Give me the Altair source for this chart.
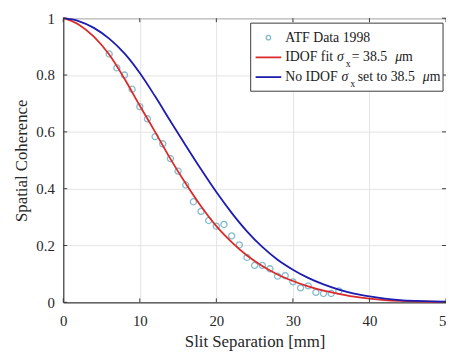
import altair as alt
import pandas as pd

# ---- data ----
data_x = [6, 7, 8, 9, 10, 11, 12, 13, 14, 15, 16, 17, 18, 19, 20, 21, 22, 23, 24, 25,
          26, 27, 28, 29, 30, 31, 32, 33, 34, 35, 36]
data_y = [0.874, 0.825, 0.800, 0.750, 0.689, 0.646, 0.583, 0.558, 0.506, 0.462, 0.413,
          0.354, 0.320, 0.288, 0.268, 0.274, 0.234, 0.202, 0.158, 0.130, 0.130, 0.118,
          0.092, 0.094, 0.072, 0.051, 0.058, 0.035, 0.031, 0.031, 0.040]

curve_x = [0, 2, 4, 6, 8, 10, 12, 14, 16, 18, 20, 22, 24, 26, 28, 30, 32, 34, 36, 38,
           40, 42, 44, 46, 48, 50]
idof_y = [1.0, 0.978, 0.935, 0.872, 0.787, 0.692, 0.600, 0.505, 0.418, 0.338, 0.268,
          0.212, 0.165, 0.128, 0.098, 0.075, 0.056, 0.041, 0.030, 0.020, 0.013, 0.008,
          0.005, 0.003, 0.002, 0.001]
noidof_y = [1.0, 0.990, 0.966, 0.928, 0.876, 0.807, 0.725, 0.638, 0.552, 0.468, 0.388,
            0.315, 0.250, 0.195, 0.150, 0.115, 0.086, 0.063, 0.045, 0.031, 0.021, 0.013,
            0.008, 0.005, 0.003, 0.002]

x_ticks = [0, 10, 20, 30, 40, 50]
y_ticks = [0, 0.2, 0.4, 0.6, 0.8, 1]

series_names = ["ATF Data 1998", "IDOF fit", "No IDOF"]

# ---- styling ----
FONT = "Liberation Serif, Times New Roman, serif"
TEAL = "#4f9fba"
RED = "#dc2a2a"
BLUE = "#1c1cb0"
AX = "#3a3a3a"
W, H = 388, 288

pts = pd.DataFrame({"x": data_x, "y": data_y})
lines = pd.DataFrame({
    "x": curve_x * 2,
    "y": idof_y + noidof_y,
    "s": [series_names[1]] * len(curve_x) + [series_names[2]] * len(curve_x),
})
xt = pd.DataFrame({"v": x_ticks})
yt = pd.DataFrame({"v": y_ticks})

xs = alt.Scale(domain=[0, 50], nice=False, zero=False)
ys = alt.Scale(domain=[0, 1], nice=False, zero=False)

x_axis = alt.Axis(values=x_ticks, grid=True, gridColor="#e4e4e4", ticks=False,
                  domainColor=AX, labelFont=FONT, labelFontSize=15, labelColor="#262626",
                  labelPadding=12, title="Slit Separation [mm]", titleFont=FONT,
                  titleFontSize=17, titleFontWeight="normal", titleColor="#262626",
                  titlePadding=5, labelFlush=False)
y_axis = alt.Axis(values=y_ticks, grid=True, gridColor="#e4e4e4", ticks=False,
                  domainColor=AX, labelFont=FONT, labelFontSize=15, labelColor="#262626",
                  labelPadding=9, format=".1~f", title="Spatial Coherence", titleFont=FONT,
                  titleFontSize=17, titleFontWeight="normal", titleColor="#262626",
                  titlePadding=5, labelFlush=False)

points = alt.Chart(pts).mark_point(shape="circle", filled=False, size=38,
                                   strokeWidth=1.3, color=TEAL).encode(
    x=alt.X("x:Q", scale=xs, axis=x_axis),
    y=alt.Y("y:Q", scale=ys, axis=y_axis),
)

curves = alt.Chart(lines).mark_line(strokeWidth=1.8, interpolate="monotone").encode(
    x=alt.X("x:Q", scale=xs),
    y=alt.Y("y:Q", scale=ys),
    color=alt.Color("s:N", scale=alt.Scale(domain=[series_names[2], series_names[1]],
                                           range=[BLUE, RED]), legend=None),
    order=alt.Order("x:Q"),
    detail="s:N",
)

# inward tick marks (MATLAB style)
tb = alt.Chart(xt).mark_rule(color=AX, strokeWidth=1).encode(
    x=alt.X("v:Q", scale=xs), y=alt.value(H), y2=alt.value(H - 4))
tt = alt.Chart(xt).mark_rule(color=AX, strokeWidth=1).encode(
    x=alt.X("v:Q", scale=xs), y=alt.value(0), y2=alt.value(4))
tl = alt.Chart(yt).mark_rule(color=AX, strokeWidth=1).encode(
    y=alt.Y("v:Q", scale=ys), x=alt.value(0), x2=alt.value(4))
tr = alt.Chart(yt).mark_rule(color=AX, strokeWidth=1).encode(
    y=alt.Y("v:Q", scale=ys), x=alt.value(W), x2=alt.value(W - 4))

# ---- legend drawn by hand ----
one = alt.Data(values=[{"a": 1}])
box = alt.Chart(one).mark_rect(fill="white", stroke=AX, strokeWidth=1).encode(
    x=alt.value(190), x2=alt.value(385), y=alt.value(5), y2=alt.value(74))
r1, r2, r3 = 19.7, 39.7, 59.7
leg_pt = alt.Chart(one).mark_point(shape="circle", filled=False, size=20,
                                   strokeWidth=1.3, color=TEAL).encode(
    x=alt.value(208), y=alt.value(r1))
leg_red = alt.Chart(one).mark_rule(color=RED, strokeWidth=1.8).encode(
    x=alt.value(195), x2=alt.value(221), y=alt.value(r2))
leg_blue = alt.Chart(one).mark_rule(color=BLUE, strokeWidth=1.8).encode(
    x=alt.value(195), x2=alt.value(221), y=alt.value(r3))


def txt(s, x, y, size=14, style="normal"):
    return alt.Chart(one).mark_text(text=s, font=FONT, fontSize=size, fontStyle=style,
                                    align="left", baseline="middle", color="#1a1a1a").encode(
        x=alt.value(x), y=alt.value(y))


leg_texts = [
    txt(series_names[0], 225, r1),
    txt("IDOF fit", 225, r2),
    txt("σ", 277.5, r2, style="italic"),
    txt("x", 286.5, r2 + 7, size=10),
    txt("= 38.5", 292.5, r2),
    txt("μ", 336.5, r2, style="italic"),
    txt("m", 343.5, r2),
    txt("No IDOF", 225, r3),
    txt("σ", 282, r3, style="italic"),
    txt("x", 291, r3 + 7, size=10),
    txt("set to 38.5", 298.5, r3),
    txt("μ", 364.5, r3, style="italic"),
    txt("m", 371.5, r3),
]

chart = alt.layer(points, curves, tb, tt, tl, tr, box, leg_pt, leg_red, leg_blue,
                  *leg_texts).properties(
    width=W, height=H,
    autosize=alt.AutoSizeParams(type="none"),
    padding={"left": 56, "top": 8, "right": 0, "bottom": 48},
    background="white",
).configure_view(stroke=AX, strokeWidth=1)

chart.save("out.html", embed_options={"renderer": "svg", "actions": False})
